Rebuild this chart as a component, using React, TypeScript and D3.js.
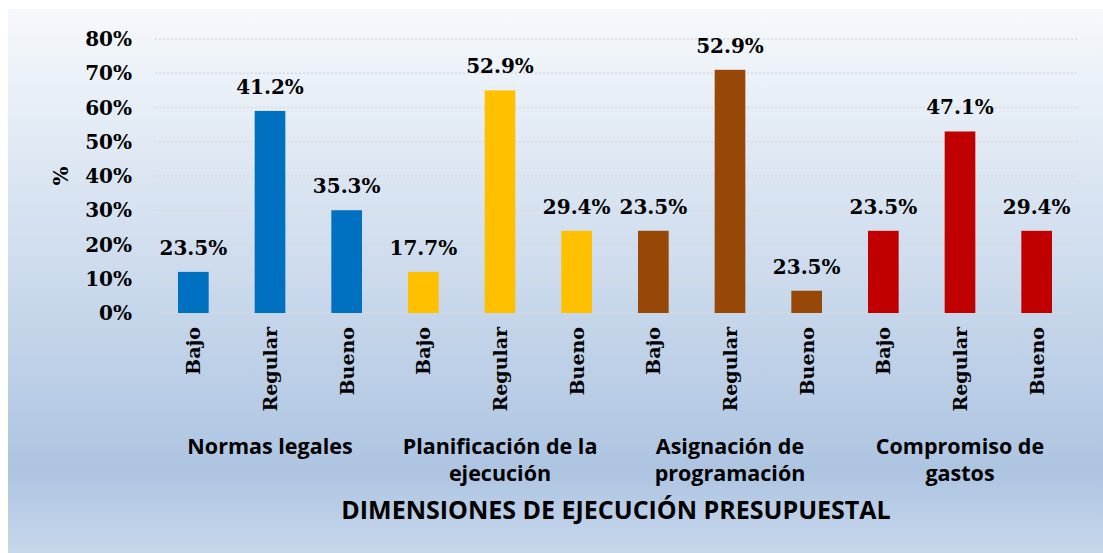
import React from "react";
import * as d3 from "d3";

const groups = [
  ["Normas legales"],
  ["Planificación de la", "ejecución"],
  ["Asignación de", "programación"],
  ["Compromiso de", "gastos"],
];
const levels = ["Bajo", "Regular", "Bueno"];
const groupColors = ["#0070c0", "#ffc000", "#974706", "#c00000"];
// bar heights as drawn (%)
const barValues = [12, 59, 30, 12, 65, 24, 24, 71, 6.5, 24, 53, 24];
// data labels as printed
const barLabels = [
  "23.5%", "41.2%", "35.3%",
  "17.7%", "52.9%", "29.4%",
  "23.5%", "52.9%", "23.5%",
  "23.5%", "47.1%", "29.4%",
];
const yTicks = [0, 10, 20, 30, 40, 50, 60, 70, 80];

const W = 1103;
const H = 553;
const serif = "'DejaVu Serif', serif";
const sans = "'Open Sans', Lato, sans-serif";

export default function App() {
  const bars = barValues.map((v, i) => ({
    key: `${i}`,
    value: v,
    label: barLabels[i],
    level: levels[i % 3],
    group: Math.floor(i / 3),
  }));

  const x = d3
    .scaleBand<string>()
    .domain(bars.map((b) => b.key))
    .range([155, 1075])
    .paddingInner(0.6)
    .paddingOuter(0.3);

  const y = d3.scaleLinear().domain([0, 80]).range([313, 39]);

  const cx = (k: string) => (x(k) ?? 0) + x.bandwidth() / 2;

  return (
    <svg
      width={W}
      height={H}
      style={{ position: "absolute", left: 0, top: 0 }}
    >
      <defs>
        <linearGradient id="bg" x1="0" y1="0" x2="0" y2="1">
          <stop offset="0" stopColor="#f6f9fc" />
          <stop offset="0.85" stopColor="#adc4e1" />
          <stop offset="1" stopColor="#c7d7eb" />
        </linearGradient>
      </defs>
      <rect x={8} y={9} width={W - 8} height={H - 9} fill="url(#bg)" />

      {/* gridlines */}
      {yTicks.map((t) => (
        <line
          key={t}
          x1={155}
          x2={1077}
          y1={y(t)}
          y2={y(t)}
          stroke="#d9d9d9"
          strokeWidth={1.5}
          strokeDasharray="2,2"
        />
      ))}

      {/* y tick labels */}
      {yTicks.map((t) => (
        <text
          key={t}
          x={132}
          y={y(t)}
          dy="0.35em"
          textAnchor="end"
          fontFamily={serif}
          fontWeight="bold"
          fontSize={20}
        >
          {t}%
        </text>
      ))}

      <text
        transform={`translate(68, ${y(40)}) rotate(-90)`}
        textAnchor="middle"
        fontFamily={serif}
        fontWeight="bold"
        fontSize={20}
      >
        %
      </text>

      {/* bars */}
      {bars.map((b) => (
        <rect
          key={b.key}
          x={x(b.key)}
          y={y(b.value)}
          width={x.bandwidth()}
          height={y(0) - y(b.value)}
          fill={groupColors[b.group]}
        />
      ))}

      {/* data labels */}
      {bars.map((b) => (
        <text
          key={b.key}
          x={cx(b.key)}
          y={y(b.value) - 17}
          textAnchor="middle"
          fontFamily={serif}
          fontWeight="bold"
          fontSize={20}
        >
          {b.label}
        </text>
      ))}

      {/* level labels */}
      {bars.map((b) => (
        <text
          key={b.key}
          transform={`translate(${cx(b.key) + 7}, 327) rotate(-90)`}
          textAnchor="end"
          fontFamily={serif}
          fontWeight="bold"
          fontSize={19}
        >
          {b.level}
        </text>
      ))}

      {/* group labels */}
      {groups.map((lines, g) => (
        <text
          key={g}
          x={cx(`${g * 3 + 1}`)}
          y={454}
          textAnchor="middle"
          fontFamily={sans}
          fontWeight="bold"
          fontSize={21.5}
        >
          {lines.map((l, j) => (
            <tspan key={j} x={cx(`${g * 3 + 1}`)} dy={j === 0 ? 0 : 27}>
              {l}
            </tspan>
          ))}
        </text>
      ))}

      <text
        x={616}
        y={519}
        textAnchor="middle"
        fontFamily={sans}
        fontWeight="bold"
        fontSize={25}
      >
        DIMENSIONES DE EJECUCIÓN PRESUPUESTAL
      </text>
    </svg>
  );
}
